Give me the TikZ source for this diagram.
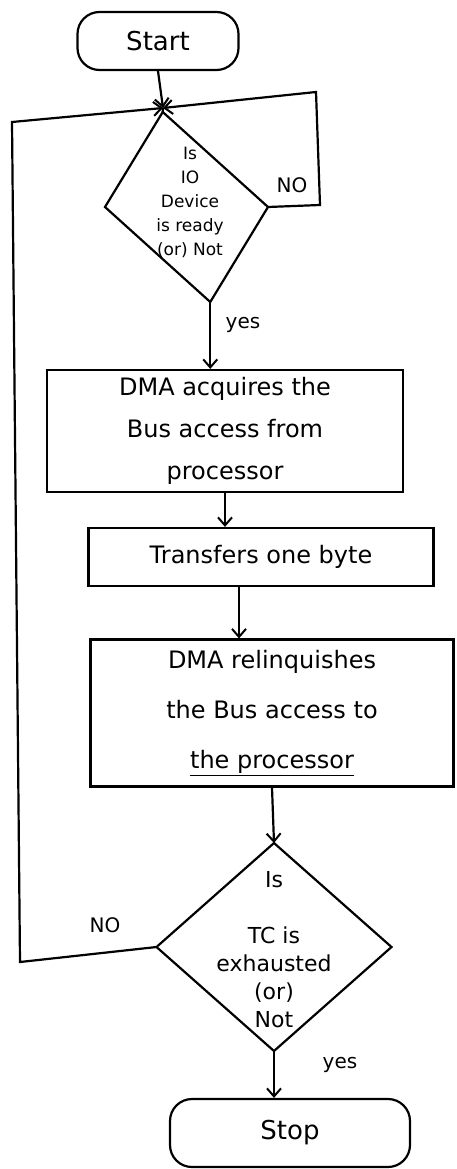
\documentclass[tikz,border=0pt]{standalone}
\usepackage{fontspec}
\setmainfont{DejaVu Sans}
\usetikzlibrary{shapes.geometric,arrows.meta}
\begin{document}
\begin{tikzpicture}[x=1pt,y=-1pt,
  flow/.style={line width=2.2pt},
  arr/.style={flow,-{Straight Barb[length=8pt,width=14pt,line width=2pt]}},
  term/.style={draw,flow,rounded corners=22pt,inner sep=0pt,font=\fontsize{26}{30}\selectfont},
  proc/.style={draw,flow,inner sep=0pt,align=center,font=\fontsize{24}{42}\selectfont},
  dec/.style={draw,flow,shape=diamond,inner sep=0pt,outer sep=0pt},
  dectext/.style={align=center,inner sep=0pt},
  lbl/.style={font=\fontsize{20}{22}\selectfont}]

\useasboundingbox (0,0) rectangle (456,1169);

% terminals, boxes and decisions
\node[term, minimum width=161pt, minimum height=58pt] (start) at (158,41) {Start};
\coordinate (j) at (163,108);
\begin{scope}[shift={(186.5,207)}]
  \node[dec, minimum width=163pt, minimum height=190pt, xslant=-0.25, transform shape] (d1) at (0,0) {};
\end{scope}
\node[dectext, font=\fontsize{17}{24}\selectfont] (d1t) at (190,202) {Is\\IO\\Device\\is ready\\(or) Not};

\node[proc, minimum width=356pt, minimum height=122pt] (b1) at (225,431)
  {DMA acquires the\\Bus access from\\processor};
\node[proc, minimum width=345pt, minimum height=58pt] (b2) at (261,557) {Transfers one byte};
\node[proc, minimum width=363pt, minimum height=147pt, font=\fontsize{24}{50}\selectfont] (b3) at (272,713)
  {DMA relinquishes\\the Bus access to\\\underline{the processor}};

\node[dec, minimum width=235pt, minimum height=208pt] (d2) at (274,947) {};
\node[dectext, font=\fontsize{22}{28}\selectfont] (d2t) at (274,950)
  {Is\\[28pt]TC is\\exhausted\\(or)\\Not};

\node[term, minimum width=240pt, minimum height=68pt] (stop) at (290,1133) {Stop};

% connectors
\draw[arr] (start.south) -- (j);
\draw[flow] (j) -- (d1.north);
\draw[arr] (d1.east) -- (320,205) -- (316,92) -- (j);
\node[lbl] (no1) at (292,185) {NO};
\draw[arr] (d1.south) -- (d1.south |- b1.north);
\node[lbl] (yes1) at (243,325) {yes};
\draw[arr] (b1.south) -- (b1.south |- b2.north);
\draw[arr] ([xshift=-22pt]b2.south) -- ([xshift=-22pt]b2.south |- b3.north);
\draw[arr] (b3.south) -- (d2.north);
\draw[arr] (d2.west) -- (20,962) -- (12,122) -- (j);
\node[lbl] (no2) at (105,925) {NO};
\draw[arr] (d2.south) -- (d2.south |- stop.north);
\node[lbl] (yes2) at (340,1065) {yes};
\end{tikzpicture}
\end{document}
